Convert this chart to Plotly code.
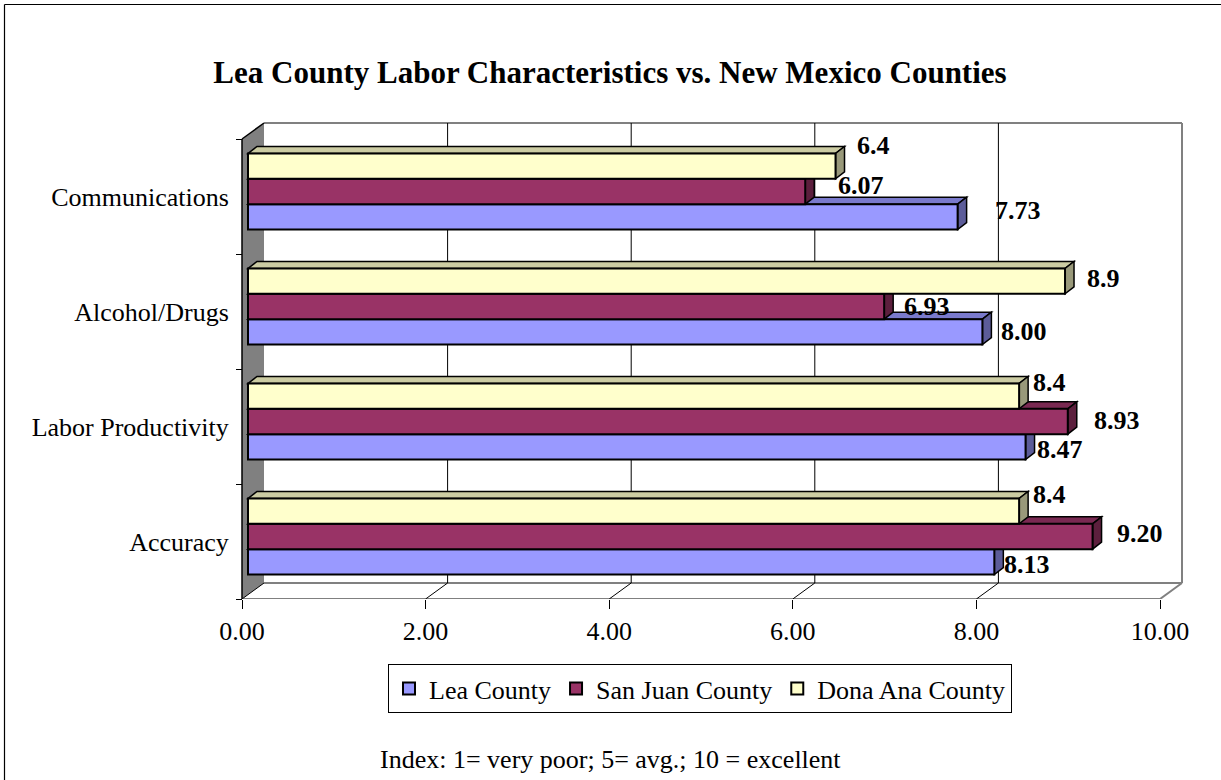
import plotly.graph_objects as go

# ---- data ----
categories = ["Accuracy", "Labor Productivity", "Alcohol/Drugs", "Communications"]
series_names = ["Lea County", "San Juan County", "Dona Ana County"]
lea_county = [8.13, 8.47, 8.00, 7.73]
san_juan_county = [9.20, 8.93, 6.93, 6.07]
dona_ana_county = [8.4, 8.4, 8.9, 6.4]
x_tick_values = [0, 2, 4, 6, 8, 10]
x_tick_labels = ["0.00", "2.00", "4.00", "6.00", "8.00", "10.00"]
label_formats = ["{:.2f}", "{:.2f}", "{:.1f}"]
title_text = "Lea County Labor Characteristics vs. New Mexico Counties"
footnote_text = "Index: 1= very poor; 5= avg.; 10 = excellent"

series_values = [lea_county, san_juan_county, dona_ana_county]

# ---- styling ----
FONT = "Liberation Serif, Times New Roman, serif"
front_colors = ["#9999FF", "#993366", "#FFFFCC"]
top_colors = ["#7A7ACC", "#7A2952", "#CCCCA3"]
side_colors = ["#5C5C99", "#5C1F3D", "#99997A"]
# pixel nudges of the value labels (right, up) per series / category
label_shifts = [
    [(8, -3), (9, -3), (17, 0), (35, 6)],
    [(22, 3), (24, 1), (18, 0), (31, 6)],
    [(12, 17), (12, 14), (20, 3), (19, 21)],
]

W, H = 1221, 780
L, R, T, B = 236, 21, 112, 181
plot_w, plot_h = W - L - R, H - T - B
PX_X = 91.8          # pixels per value unit
PX_Y = 115.0         # pixels per category
FRONT_X0 = 242       # pixel of value 0 on the front plane
BAR_SHIFT = (6, 5)   # bar plane offset from the front plane (right, up)
WALL_DX, WALL_DY = 22 / PX_X, 16 / PX_Y
BAR_DX, BAR_DY = 9 / PX_X, 7 / PX_Y
bargap = 0.339
bw = (1 - bargap) / 3

x_range_front = [(L - FRONT_X0) / PX_X, (W - R - FRONT_X0) / PX_X]
y_range_front = [-0.5, -0.5 + plot_h / PX_Y]
x_range_bar = [r - BAR_SHIFT[0] / PX_X for r in x_range_front]
y_range_bar = [r - BAR_SHIFT[1] / PX_Y for r in y_range_front]


def poly(points, xref, yref, fill, line_color=None, line_width=0):
    path = "M " + " L ".join(f"{x},{y}" for x, y in points) + " Z"
    return dict(type="path", path=path, xref=xref, yref=yref, layer="below",
                fillcolor=fill, line=dict(color=line_color or fill, width=line_width))


def seg(p0, p1, color, width, xref="x", yref="y"):
    return dict(type="line", x0=p0[0], y0=p0[1], x1=p1[0], y1=p1[1],
                xref=xref, yref=yref, layer="below",
                line=dict(color=color, width=width))


n_cat = len(categories)
y_bot, y_top = -0.5, n_cat - 0.5
x_max = x_tick_values[-1]
shapes = []

# side wall
shapes.append(poly([(0, y_bot), (0, y_top), (WALL_DX, y_top + WALL_DY), (WALL_DX, y_bot + WALL_DY)],
                   "x", "y", "#808080"))
# back wall + floor outline
grey = "#808080"
shapes.append(seg((WALL_DX, y_top + WALL_DY), (x_max + WALL_DX, y_top + WALL_DY), grey, 2))
shapes.append(seg((x_max + WALL_DX, y_top + WALL_DY), (x_max + WALL_DX, y_bot + WALL_DY), grey, 2))
shapes.append(seg((WALL_DX, y_bot + WALL_DY), (x_max + WALL_DX, y_bot + WALL_DY), grey, 2))
shapes.append(seg((0, y_bot), (x_max, y_bot), grey, 2))
shapes.append(seg((x_max, y_bot), (x_max + WALL_DX, y_bot + WALL_DY), grey, 2))
# gridlines on back wall and floor
for v in x_tick_values[1:-1]:
    shapes.append(seg((v + WALL_DX, y_bot + WALL_DY), (v + WALL_DX, y_top + WALL_DY), "black", 1))
    shapes.append(seg((v, y_bot), (v + WALL_DX, y_bot + WALL_DY), "black", 1))
# wall edges
shapes.append(seg((0, y_bot), (0, y_top), "black", 1.5))
shapes.append(seg((0, y_top), (WALL_DX, y_top + WALL_DY), "black", 1.5))
shapes.append(seg((0, y_bot), (WALL_DX, y_bot + WALL_DY), "black", 1))

# 3-D faces of the bars (bottom bar first so the bar above hides its top)
for c in range(n_cat):
    for i, vals in enumerate(series_values):
        v = vals[c]
        yb = c - 1.5 * bw + i * bw
        yt = yb + bw
        shapes.append(poly([(0, yt), (v, yt), (v + BAR_DX, yt + BAR_DY), (BAR_DX, yt + BAR_DY)],
                           "x2", "y2", top_colors[i], "black", 1.5))
        shapes.append(poly([(v, yb), (v, yt), (v + BAR_DX, yt + BAR_DY), (v + BAR_DX, yb + BAR_DY)],
                           "x2", "y2", side_colors[i], "black", 1.5))

# outer frame
def px_to_paper(px, py):
    return (px - L) / plot_w, (H - B - py) / plot_h

fx0, fy0 = px_to_paper(4.5, 4.5)
fx1, fy1 = px_to_paper(1240, 800)
shapes.append(dict(type="line", xref="paper", yref="paper", x0=fx0, y0=fy0, x1=fx1, y1=fy0,
                   line=dict(color="black", width=1.2)))
shapes.append(dict(type="line", xref="paper", yref="paper", x0=fx0, y0=fy0, x1=fx0, y1=fy1,
                   line=dict(color="black", width=1.2)))

fig = go.Figure()
for i, (name, vals) in enumerate(zip(series_names, series_values)):
    fig.add_trace(go.Bar(
        x=vals, y=categories, orientation="h", name=name,
        xaxis="x2", yaxis="y2",
        width=bw, offset=-1.5 * bw + i * bw,
        marker=dict(color=front_colors[i], line=dict(color="black", width=2)),
        hoverinfo="skip",
    ))

annotations = []
for i, vals in enumerate(series_values):
    for c, v in enumerate(vals):
        dx, dy = label_shifts[i][c]
        annotations.append(dict(
            x=v, y=c - bw + i * bw, xref="x2", yref="y2",
            text=label_formats[i].format(v), showarrow=False,
            xanchor="left", yanchor="middle", xshift=dx, yshift=dy,
            font=dict(family=FONT, size=26, color="black", weight="bold"),
        ))

nx, ny = px_to_paper(610, 759)
annotations.append(dict(x=nx, y=ny, xref="paper", yref="paper", text=footnote_text,
                        showarrow=False, xanchor="center", yanchor="middle",
                        font=dict(family=FONT, size=26, color="black")))

lx, ly = px_to_paper(388, 664)
fig.update_layout(
    width=W, height=H,
    margin=dict(l=L, r=R, t=T, b=B, pad=0),
    paper_bgcolor="white", plot_bgcolor="white",
    barmode="overlay",
    showlegend=True,
    title=dict(text=f"<b>{title_text}</b>", x=610 / W, xanchor="center",
               y=1 - 72 / H, yref="container", yanchor="middle",
               font=dict(family=FONT, size=31, color="black")),
    xaxis=dict(range=x_range_front, anchor="y", tickmode="array",
               tickvals=x_tick_values, ticktext=x_tick_labels,
               ticks="outside", ticklen=9, tickcolor="black", tickwidth=1,
               showgrid=False, zeroline=False, showline=False,
               tickfont=dict(family=FONT, size=26, color="black")),
    yaxis=dict(range=y_range_front, anchor="free", position=(FRONT_X0 - L) / plot_w,
               side="left", tickmode="array", tickvals=list(range(n_cat)), ticktext=categories,
               ticks="outside", ticklen=8, tickcolor="rgba(0,0,0,0)",
               minor=dict(tickmode="array", tickvals=[k - 0.5 for k in range(n_cat + 1)],
                          ticks="outside", ticklen=6, tickcolor="black", tickwidth=1, showgrid=False),
               showgrid=False, zeroline=False, showline=False,
               tickfont=dict(family=FONT, size=26, color="black")),
    xaxis2=dict(range=x_range_bar, overlaying="x", anchor="y2", visible=False),
    yaxis2=dict(range=y_range_bar, overlaying="y", anchor="x2", visible=False,
                type="category", categoryorder="array", categoryarray=categories),
    legend=dict(orientation="h", x=lx, y=ly, xanchor="left", yanchor="top",
                bordercolor="black", borderwidth=1, bgcolor="white",
                font=dict(family=FONT, size=26, color="black"), traceorder="normal"),
    shapes=shapes,
    annotations=annotations,
)

fig.write_html("out.html")
